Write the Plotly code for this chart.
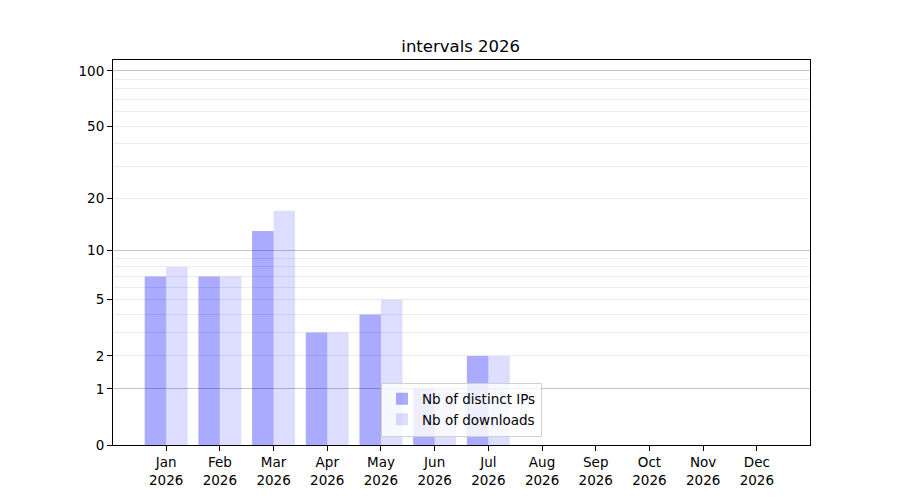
import numpy as np
import plotly.graph_objects as go

months = ["Jan", "Feb", "Mar", "Apr", "May", "Jun", "Jul", "Aug", "Sep", "Oct", "Nov", "Dec"]
year = "2026"
ips = [7, 7, 13, 3, 4, 1, 2, 0, 0, 0, 0, 0]
downloads = [8, 7, 17, 3, 5, 1, 2, 0, 0, 0, 0, 0]
y_labels = [0, 1, 2, 5, 10, 20, 50, 100]
major_grid = [1, 10, 100]
minor_grid = [2, 3, 4, 5, 6, 7, 8, 9, 20, 30, 40, 50, 60, 70, 80, 90]
y_top = 114.5


def f(v):
    return np.log10(1 + np.asarray(v, dtype=float))


x = list(range(len(months)))
ticktext = [f"{m}<br>{year}" for m in months]

fig = go.Figure()
fig.add_trace(go.Bar(x=x, y=f(ips), offset=-0.4, width=0.4,
                     marker=dict(color="rgba(0,0,255,0.333)", line=dict(width=0)),
                     name="Nb of distinct IPs"))
fig.add_trace(go.Bar(x=x, y=f(downloads), offset=0.0, width=0.4,
                     marker=dict(color="rgba(0,0,255,0.135)", line=dict(width=0)),
                     name="Nb of downloads", yaxis="y"))
# invisible trace on overlay axis for major grid lines
fig.add_trace(go.Scatter(x=[x[0]], y=[0], yaxis="y2", mode="markers",
                         marker=dict(opacity=0), showlegend=False, hoverinfo="skip"))

font = dict(family="DejaVu Sans", size=13.5, color="black")
fig.update_layout(
    width=900, height=500,
    margin=dict(l=105, r=98, t=52, b=63),
    paper_bgcolor="white", plot_bgcolor="white",
    font=font,
    barmode="overlay",
    title=dict(text="intervals 2026", x=0.503, xanchor="center", y=0.924, yanchor="middle",
               font=dict(family="DejaVu Sans", size=16.5, color="black")),
    xaxis=dict(range=[-0.99, 11.99], tickmode="array", tickvals=x, ticktext=ticktext,
               showgrid=False, zeroline=False, showline=True, linecolor="black", linewidth=1,
               mirror=True, ticks="outside", ticklen=5, tickcolor="black", tickfont=font),
    yaxis=dict(range=[0, float(f(y_top))], tickmode="array", tickvals=f(y_labels),
               ticktext=[str(v) for v in y_labels],
               showgrid=False, zeroline=False, showline=True, linecolor="black", linewidth=1,
               mirror=True, ticks="outside", ticklen=5, tickcolor="black", tickfont=font,
               minor=dict(tickmode="array", tickvals=f(minor_grid), showgrid=True,
                          gridcolor="#ececec", gridwidth=1, ticks="")),
    yaxis2=dict(range=[0, float(f(y_top))], overlaying="y", side="left",
                tickmode="array", tickvals=f(major_grid), showticklabels=False,
                showgrid=True, gridcolor="#c4c4c4", gridwidth=1, zeroline=False,
                ticks="", showline=False),
    legend=dict(x=0.5, xanchor="center", y=0.022, yanchor="bottom",
                bgcolor="rgba(255,255,255,0.8)", bordercolor="#d0d0d0", borderwidth=1,
                font=font, tracegroupgap=0),
    showlegend=True,
)

fig.write_html("out.html")
